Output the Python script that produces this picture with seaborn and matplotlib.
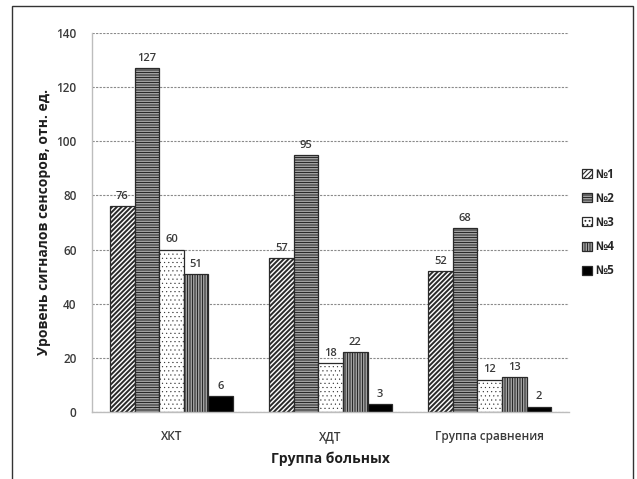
import matplotlib
matplotlib.use("Agg")
import matplotlib.pyplot as plt
from matplotlib.patches import Rectangle
import seaborn as sns
import pandas as pd

groups = ["ХКТ", "ХДТ", "Группа сравнения"]
sensors = ["№1", "№2", "№3", "№4", "№5"]
values = {
    "№1": [76, 57, 52],
    "№2": [127, 95, 68],
    "№3": [60, 18, 12],
    "№4": [51, 22, 13],
    "№5": [6, 3, 2],
}
y_ticks = [0, 20, 40, 60, 80, 100, 120, 140]
x_title = "Группа больных"
y_title = "Уровень сигналов сенсоров, отн. ед."

rows = [(g, s, values[s][i]) for s in sensors for i, g in enumerate(groups)]
df = pd.DataFrame(rows, columns=["group", "sensor", "value"])

sns.set_theme(style="white")
plt.rcParams["font.family"] = ["Open Sans", "DejaVu Sans"]
plt.rcParams["hatch.linewidth"] = 0.8

fig = plt.figure(figsize=(6.37, 4.79), dpi=100)
ax = fig.add_axes([0.1444, 0.1399, 0.749, 0.7912])

ax.set_axisbelow(True)
sns.barplot(data=df, x="group", y="value", hue="sensor", order=groups,
            hue_order=sensors, width=0.775, gap=0, ax=ax,
            edgecolor="#2a2a2a", linewidth=0.9, legend=False, errorbar=None)

hatches = ["/" * 7, "-" * 10, "....", "|" * 10, None]
hatch_cols = ["#000000", "#7a7a7a", "#a0a0a0", "#7a7a7a", "#111111"]
hatch_lws = [1.4, 0.8, 0.3, 0.8, 0.8]
fills = ["white", "white", "white", "white", "black"]
for cont, h, hc, hlw, fc in zip(ax.containers, hatches, hatch_cols, hatch_lws, fills):
    for p in cont.patches:
        p.set_facecolor(fc)
        p.set_hatch(h)
        if hasattr(p, "set_hatchcolor"):
            p.set_hatchcolor(hc)
        if hasattr(p, "set_hatch_linewidth"):
            p.set_hatch_linewidth(hlw)
        else:
            p._hatch_linewidth = hlw
    ax.bar_label(cont, padding=3, fontsize=8, color="#3a3a3a",
                 fontweight="semibold")

ax.set_ylim(0, 140)
ax.set_xlim(-0.5, 2.5)
ax.set_yticks(y_ticks)
ax.yaxis.grid(True, linestyle=(0, (2, 1.2)), color="#8a8a8a", linewidth=0.8)
ax.xaxis.grid(False)

for side in ["top", "right"]:
    ax.spines[side].set_visible(False)
for side in ["left", "bottom"]:
    ax.spines[side].set_color("#bdbdbd")
    ax.spines[side].set_linewidth(1.0)

ax.set_xticks([-0.5, 0.5, 1.5, 2.5], minor=True)
ax.tick_params(axis="x", which="major", length=0, pad=13,
               labelsize=8.5, labelcolor="#3a3a3a")
ax.tick_params(axis="x", which="minor", length=4, color="#bdbdbd", width=1)
ax.tick_params(axis="y", which="major", length=5, color="#bdbdbd", width=1,
               labelsize=8.5, labelcolor="#3a3a3a", pad=6)
for lbl in ax.get_xticklabels() + ax.get_yticklabels():
    lbl.set_fontweight("semibold")

ax.set_xlabel(x_title, fontsize=10, fontweight="bold", color="#1e1e1e", labelpad=6)
ax.set_ylabel(y_title, fontsize=10, fontweight="bold", color="#1e1e1e", labelpad=4)

leg = ax.legend(handles=list(ax.containers), labels=sensors,
                loc="center left", bbox_to_anchor=(1.005, 0.5), frameon=False,
                handlelength=0.8, handleheight=0.8, handletextpad=0.3,
                labelspacing=0.95, fontsize=8.5)
for t in leg.get_texts():
    t.set_fontweight("bold")
    t.set_color("#262626")

fig.add_artist(Rectangle((12 / 637, -0.02), (633 - 12) / 637, 1 - 6 / 479 + 0.02,
                         transform=fig.transFigure, fill=False,
                         edgecolor="#333333", linewidth=1.0))

fig.savefig("out.png", dpi=100, facecolor="white")
